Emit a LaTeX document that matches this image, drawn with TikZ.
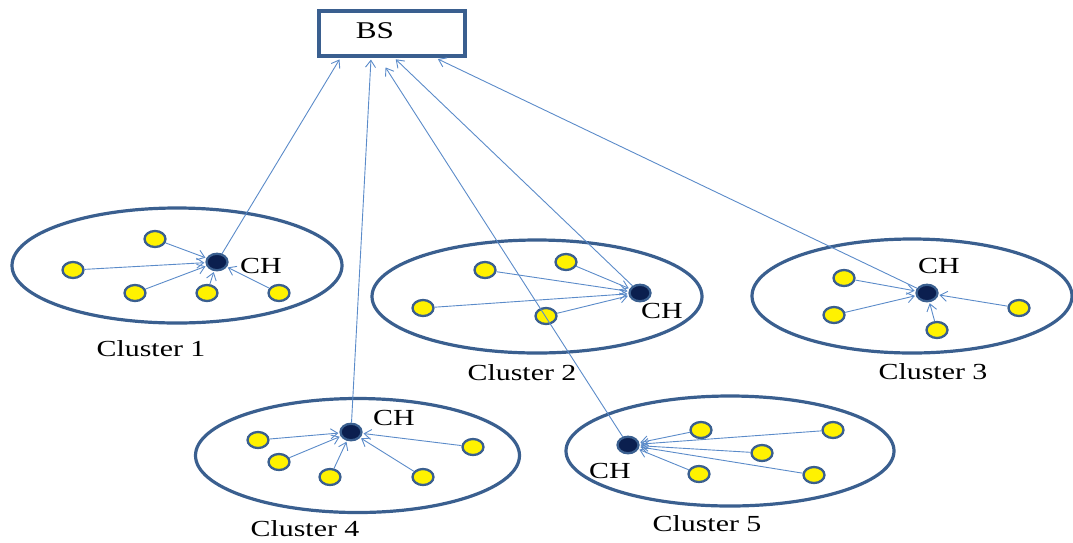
\documentclass[tikz,border=0pt]{standalone}
\usepackage{fontspec}
\setmainfont{Liberation Serif}
\usepackage{graphicx}
\usetikzlibrary{arrows.meta,calc,shapes.geometric}
\definecolor{edgeblue}{HTML}{3A5F8F}
\definecolor{linkblue}{HTML}{5B8BC9}
\definecolor{navyhead}{HTML}{0B1F4F}
\newcommand{\wt}[1]{\scalebox{1.3}[1]{#1}}
\begin{document}
\begin{tikzpicture}[x=1pt,y=-1pt,
  clusterbox/.style={ellipse, draw=edgeblue, line width=3.2pt, inner sep=0},
  sensor/.style={ellipse, minimum width=21pt, minimum height=16pt, inner sep=0, fill=yellow, draw=edgeblue, line width=2.3pt},
  head/.style={ellipse, minimum width=21pt, minimum height=16.5pt, inner sep=0, fill=navyhead, draw=edgeblue, line width=2.3pt},
  link/.style={draw=linkblue, line width=0.9pt, -{Straight Barb[length=7pt,width=10pt]}, shorten >=1pt},
  lbl/.style={font=\fontsize{23}{25}\selectfont, inner sep=0}]
\useasboundingbox (0,0) rectangle (1073,542);
% base station
\node[draw=edgeblue, line width=3.2pt, minimum width=146pt, minimum height=45pt, inner sep=0] (BS) at (392,33.5) {};
\node[lbl, font=\fontsize{24}{26}\selectfont] (bslab) at (375,31) {\wt{BS}};
% cluster outlines
\node[clusterbox, minimum width=330pt, minimum height=115pt] (e1) at (177,265.5) {};
\node[clusterbox, minimum width=330pt, minimum height=113pt] (e2) at (537,296.5) {};
\node[clusterbox, minimum width=320pt, minimum height=114pt] (e3) at (912,296) {};
\node[clusterbox, minimum width=324pt, minimum height=114pt] (e4) at (357.5,455.5) {};
\node[clusterbox, minimum width=328pt, minimum height=110pt] (e5) at (730,451) {};
% cluster labels
\node[lbl] (l1) at (151,349) {\wt{Cluster 1}};
\node[lbl] (l2) at (522,373) {\wt{Cluster 2}};
\node[lbl] (l3) at (933,372) {\wt{Cluster 3}};
\node[lbl] (l4) at (305,529) {\wt{Cluster 4}};
\node[lbl] (l5) at (707,524) {\wt{Cluster 5}};
% cluster heads
\node[head] (ch1) at (217,262) {};
\node[head] (ch2) at (640,293) {};
\node[head] (ch3) at (927,293) {};
\node[head] (ch4) at (351,432) {};
\node[head] (ch5) at (628,445) {};
\node[lbl] (h1) at (261,266) {\wt{CH}};
\node[lbl] (h2) at (662,311) {\wt{CH}};
\node[lbl] (h3) at (939,266) {\wt{CH}};
\node[lbl] (h4) at (394,418) {\wt{CH}};
\node[lbl] (h5) at (610,471) {\wt{CH}};
% cluster 1 members
\node[sensor] (a1) at (155,239) {};
\node[sensor] (a2) at (73,270) {};
\node[sensor] (a3) at (135,293) {};
\node[sensor] (a4) at (207,293) {};
\node[sensor] (a5) at (279,293) {};
% cluster 2 members
\node[sensor] (b1) at (485,270) {};
\node[sensor] (b2) at (566,262) {};
\node[sensor] (b3) at (423,308) {};
\node[sensor] (b4) at (546,316) {};
% cluster 3 members
\node[sensor] (c1) at (844,278) {};
\node[sensor] (c2) at (834,315) {};
\node[sensor] (c3) at (937,330) {};
\node[sensor] (c4) at (1019,308) {};
% cluster 4 members
\node[sensor] (d1) at (258,440) {};
\node[sensor] (d2) at (279,462) {};
\node[sensor] (d3) at (330,477) {};
\node[sensor] (d4) at (423,477) {};
\node[sensor] (d5) at (473,447) {};
% cluster 5 members
\node[sensor] (f1) at (701,430) {};
\node[sensor] (f2) at (833,430) {};
\node[sensor] (f3) at (762,453) {};
\node[sensor] (f4) at (699,474) {};
\node[sensor] (f5) at (814,475) {};
% member links
\foreach \s in {a1,a2,a3,a4,a5} \draw[link] (\s) -- (ch1);
\foreach \s in {b1,b2,b3,b4} \draw[link] (\s) -- (ch2);
\foreach \s in {c1,c2,c3,c4} \draw[link] (\s) -- (ch3);
\foreach \s in {d1,d2,d3,d4,d5} \draw[link] (\s) -- (ch4);
\foreach \s in {f1,f2,f3,f4,f5} \draw[link] (\s) -- (ch5);
% links to base station
\draw[link] (ch1) -- ($(BS.south)+(-52,1)$);
\draw[link] (ch4) -- ($(BS.south)+(-21,1)$);
\draw[link] (ch5) -- ($(BS.south)+(-7,9)$);
\draw[link] (ch2) -- ($(BS.south)+(3,1)$);
\draw[link] (ch3) -- ($(BS.south)+(45,1)$);
\end{tikzpicture}
\end{document}
